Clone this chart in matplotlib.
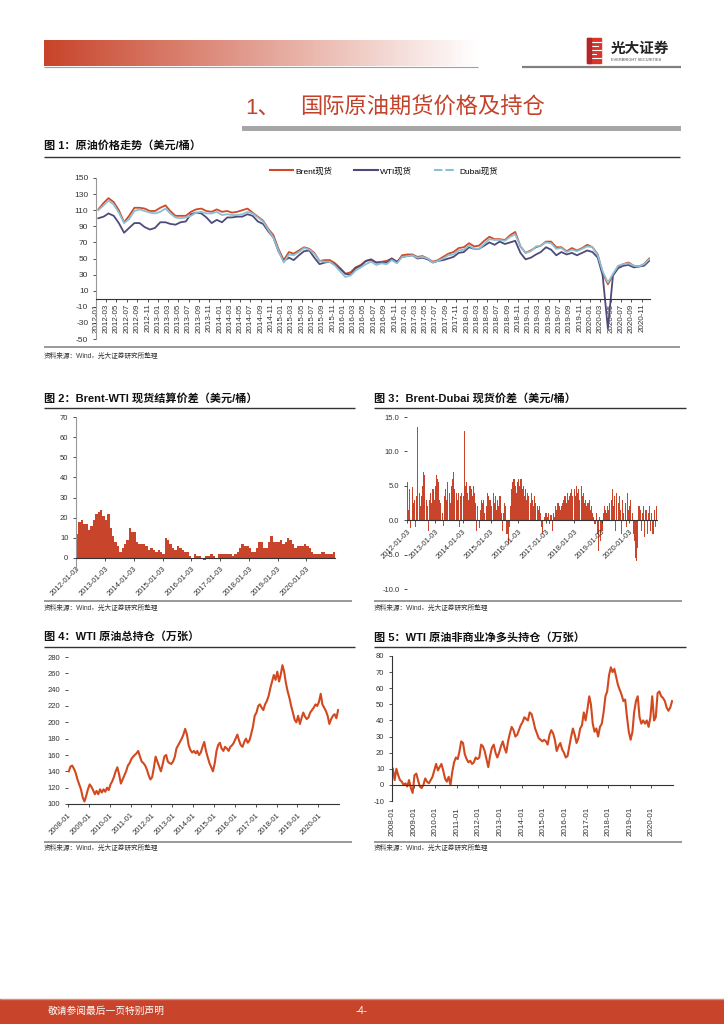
import numpy as np
import pandas as pd
import matplotlib
matplotlib.use("Agg")
import matplotlib.pyplot as plt
from matplotlib.patches import Rectangle
from matplotlib.lines import Line2D

plt.rcParams["font.family"] = ["Liberation Sans", "Noto Sans CJK SC", "DejaVu Sans"]
plt.rcParams["axes.unicode_minus"] = False

RED = "#C8442A"
LINE_RED = "#D2491F"
BRENT_C = "#D04A26"
WTI_C = "#4E4B7C"
DUBAI_C = "#8DBFD2"
TXT = "#333333"

# ---------------- data ----------------
# Fig 1: monthly spot prices 2012-01 .. 2020-12 (USD/bbl)
brent = [111, 119, 125, 120, 110, 95, 103, 113, 113, 112, 109, 109,
         113, 116, 109, 103, 103, 103, 108, 111, 112, 109, 108, 111,
         108, 109, 107, 108, 110, 112, 107, 102, 97, 87, 79, 62,
         48, 58, 56, 60, 64, 62, 57, 47, 48, 48, 44, 38,
         31, 33, 39, 42, 47, 48, 45, 46, 47, 50, 45, 54,
         55, 55, 52, 53, 50, 46, 48, 52, 56, 58, 63, 64,
         69, 65, 66, 72, 77, 74, 74, 73, 79, 83, 65, 57,
         60, 64, 66, 71, 71, 64, 64, 59, 63, 60, 63, 67,
         64, 55, 32, 18, 29, 40, 43, 45, 41, 40, 43, 50]
wti = [100, 102, 106, 103, 94, 82, 88, 94, 94, 89, 86, 88,
       95, 95, 93, 92, 95, 96, 105, 107, 106, 101, 94, 98,
       95, 101, 101, 102, 102, 105, 103, 96, 93, 84, 76, 59,
       47, 51, 48, 54, 59, 60, 51, 43, 45, 46, 42, 37,
       31, 30, 38, 41, 47, 49, 45, 45, 45, 50, 46, 52,
       53, 54, 50, 51, 49, 45, 47, 48, 50, 52, 57, 58,
       64, 62, 62, 66, 70, 67, 71, 68, 70, 72, 57, 49,
       51, 55, 58, 64, 61, 54, 58, 55, 57, 54, 57, 60,
       58, 51, 29, -37, 29, 38, 41, 42, 39, 40, 41, 47]
dubai = [110, 116, 122, 117, 107, 94, 99, 109, 111, 109, 107, 106,
         108, 112, 106, 101, 100, 101, 103, 107, 108, 106, 106, 108,
         104, 105, 104, 104, 105, 108, 106, 101, 96, 86, 76, 60,
         45, 55, 54, 58, 63, 61, 56, 47, 46, 46, 41, 34,
         27, 29, 35, 39, 43, 46, 42, 44, 43, 48, 44, 52,
         53, 54, 51, 52, 50, 45, 47, 50, 54, 55, 60, 61,
         66, 62, 62, 68, 74, 73, 73, 72, 77, 80, 65, 57,
         59, 65, 66, 70, 69, 62, 63, 58, 61, 59, 62, 65,
         64, 54, 34, 20, 31, 41, 43, 44, 41, 40, 43, 49]

# Fig 2: Brent-WTI spread, monthly 2012-01 .. 2020-12
brent_wti = [12, 18, 19, 17, 17, 14, 16, 19, 22, 23, 24, 21,
             19, 22, 15, 11, 8, 6, 3, 5, 7, 9, 15, 13,
             13, 8, 7, 7, 7, 6, 4, 5, 4, 3, 4, 3,
             2, 10, 9, 7, 5, 4, 6, 5, 4, 3, 3, 1,
             0, 2, 1, 1, 0, -1, 1, 1, 2, 1, 0, 2,
             2, 2, 2, 2, 2, 1, 2, 3, 5, 7, 6, 6,
             5, 3, 3, 5, 8, 8, 5, 5, 8, 11, 8, 8,
             8, 9, 7, 8, 10, 9, 7, 5, 6, 6, 6, 7,
             6, 5, 3, 2, 2, 2, 3, 3, 2, 2, 2, 3]
spike_dates = ["2020-04-20", "2020-04-22"]
spike_values = [56.5, -6.0]

# Fig 3: Brent-Dubai spread, semi-monthly 2012-01 .. 2020-12
brent_dubai = [5.5, 1.5, 4.5, -1.2, 4.8, 2.5, 3.0, -1.0, 3.5, 13.5, 4.0, 2.0,
               3.5, 5.0, 7.0, 6.5, 3.0, 2.0, -1.5, 3.0, 4.0, 2.5, 4.5, 3.0,
               5.0, 6.5, 6.0, 5.5, 3.0, 2.5, 1.0, -0.8, 3.5, 4.5, 3.0, 5.5,
               4.0, 2.5, 5.0, 6.0, 7.0, 4.5, 4.0, 3.0, 4.0, -1.0, 3.5, 4.0,
               3.5, 13.0, 5.0, 5.5, 4.0, 3.0, 5.0, 4.5, 3.5, 5.0, 4.0, 2.5,
               -1.5, 2.0, -1.2, 1.5, 3.0, 2.5, 3.0, 1.0, 2.0, 4.0, 3.5, 3.0,
               3.0, 2.0, 4.0, 2.5, 3.5, 1.5, 3.0, 2.0, 3.5, 1.0, -1.5, 1.0,
               2.5, 2.0, -2.0, -3.5, -1.0, 2.0, 4.5, 5.5, 6.0, 5.0, 4.0, 5.5,
               6.0, 5.0, 6.0, 4.5, 5.0, 3.5, 4.5, 3.0, 4.0, 3.5, 2.5, 4.0,
               3.0, 2.0, 3.5, 2.5, 2.0, 1.5, 2.0, 1.0, -1.0, -2.0, 0.5, 1.0,
               1.0, 0.5, 1.0, -0.5, 0.8, -1.5, 1.0, 0.5, 2.0, 1.5, 2.5, 2.0,
               1.5, 2.0, 2.5, 3.0, 3.5, 2.5, 4.0, 3.0, 3.5, 4.0, 4.5, 3.5,
               4.5, 3.5, 5.0, 4.0, 4.5, 3.0, 5.0, 3.5, 4.0, 2.5, 3.0, 2.0,
               2.5, 3.0, 1.5, 2.0, 1.0, 0.5, -0.5, 1.0, -2.0, -4.5, 0.5, -3.0,
               -1.5, 1.0, 2.0, 1.5, 1.0, 2.0, 1.5, 2.5, 3.0, 4.5, 2.0, 3.5,
               -1.5, 4.0, 2.5, 3.5, 1.5, -2.0, 3.0, 1.0, 2.5, -1.0, 4.0, 1.5,
               2.0, 3.0, 1.0, -2.0, -3.0, -5.5, -6.0, -4.0, 2.0, 1.5, -1.5, 1.0,
               2.0, -2.5, 1.5, -2.0, 1.0, 2.0, -1.5, 1.0, -2.0, 1.5, -1.0, 2.0]

# Fig 4: WTI total open interest (10k contracts), monthly 2008-01 .. 2020-12
wti_oi = [140, 146, 147, 143, 138, 130, 124, 118, 108, 103, 110, 118,
          124, 121, 117, 112, 116, 112, 118, 114, 118, 115, 120, 117,
          124, 128, 133, 140, 145, 136, 125, 130, 135, 140, 147, 150,
          155, 158, 160, 162, 165, 158, 152, 150, 147, 142, 135, 130,
          133, 145, 158, 152, 146, 140, 148, 158, 160, 152, 150, 149,
          152, 158, 168, 172, 176, 180, 185, 192, 185, 172, 166, 163,
          165, 162, 165, 160, 163, 170, 176, 165, 157, 150, 145, 140,
          150, 165, 172, 175, 168, 165, 170, 168, 165, 170, 172, 175,
          180, 185, 178, 172, 170, 176, 180, 175, 178, 186, 195, 208,
          212, 220, 222, 218, 215, 222, 226, 232, 242, 250, 258, 252,
          262, 250, 258, 270, 262, 248, 238, 230, 220, 212, 203, 200,
          208, 198, 205, 212, 207, 204, 206, 212, 215, 218, 222, 220,
          225, 235, 222, 218, 214, 208, 198, 204, 208, 210, 205, 215]

# Fig 5: WTI non-commercial net long (10k contracts), monthly 2008-01 .. 2020-12
net_long = [10, 3, 10, 6, 3, 2, 0, 1, -1, 3, -2, -5,
            6, 7, 3, -1, -2, 0, 4, 2, 1, 3, 5, 9,
            13, 9, 11, 13, 9, 4, 2, 5, 0, 8, 14, 17,
            16, 21, 27, 26, 19, 16, 14, 15, 13, 14, 17, 16,
            17, 25, 24, 21, 16, 11, 18, 23, 25, 20, 17, 20,
            24, 27, 23, 20, 27, 32, 36, 34, 30, 31, 34, 37,
            39, 42, 41, 40, 45, 44, 40, 35, 32, 29, 28, 27,
            28, 27, 25, 31, 34, 32, 28, 21, 24, 26, 22, 20,
            17, 18, 24, 30, 35, 31, 26, 29, 35, 37, 45, 40,
            47, 55, 50, 38, 33, 35, 30, 36, 38, 45, 55, 58,
            68, 73, 70, 72, 67, 62, 59, 56, 52, 53, 42, 33,
            28, 33, 45, 52, 55, 42, 38, 40, 38, 40, 36, 42,
            55, 40, 42, 57, 58, 55, 54, 52, 48, 46, 48, 52]

source_text = "资料来源：Wind，光大证券研究所整理"

# ---------------- page ----------------
W, H = 724, 1024
fig = plt.figure(figsize=(7.24, 10.24), dpi=100)
fig.patch.set_facecolor("white")

page = fig.add_axes([0, 0, 1, 1], zorder=0)
page.set_xlim(0, W)
page.set_ylim(H, 0)
page.axis("off")


def px_axes(x0, y0, x1, y1):
    ax = fig.add_axes([x0 / W, 1 - y1 / H, (x1 - x0) / W, (y1 - y0) / H], zorder=2)
    ax.patch.set_alpha(0)
    return ax


def hline(x0, x1, y, color="#333333", lw=1.0):
    page.plot([x0, x1], [y, y], color=color, lw=lw, solid_capstyle="butt")


# header gradient bar
c0 = np.array([200, 68, 42]) / 255
grad = np.linspace(0, 1, 256)[None, :, None]
img = c0 + (1 - c0) * grad
page.imshow(img, extent=(44, 478, 66, 40), aspect="auto", zorder=1)
hline(44, 478, 66.5, color="#A0A0A0", lw=0.8)
hline(522, 681, 66.5, color="#808080", lw=1.6)

# logo
page.add_patch(Rectangle((587, 38), 14, 25, color="#D9352B", zorder=2))
for yy, x_end in [(42, 601), (46, 598), (50, 601), (54, 596), (58, 601)]:
    page.plot([591, x_end], [yy, yy], color="white", lw=0.8, zorder=3)
page.add_patch(Rectangle((587, 38), 4, 25, color="#B0262A", zorder=3))
page.text(611, 49, "光大证券", fontsize=10.5, fontweight="bold", color="#222222",
          va="center", ha="left")
page.text(611, 60, "EVERBRIGHT SECURITIES", fontsize=2.8, color="#444444",
          va="center", ha="left")

# section title
page.text(245, 108, "1、", fontsize=16, color="#C4422A", va="center", ha="left")
page.text(300, 108, "国际原油期货价格及持仓", fontsize=16, color="#C4422A",
          va="center", ha="left")
page.add_patch(Rectangle((242, 126), 439, 5, color="#A6A6A6", lw=0))

# figure titles and rules
page.text(44, 145, "图 1：原油价格走势（美元/桶）", fontsize=8, fontweight="bold",
          va="center", color="#111111")
hline(44, 680, 157, lw=1.0)
hline(44, 680, 347, color="#888888", lw=1.2)
page.text(44, 356, source_text, fontsize=4.8, va="center", color=TXT)

page.text(44, 398, "图 2：Brent-WTI 现货结算价差（美元/桶）", fontsize=8,
          fontweight="bold", va="center", color="#111111")
hline(44, 355, 407.5, lw=1.0)
hline(44, 352, 601, color="#888888", lw=1.2)
page.text(44, 608, source_text, fontsize=4.8, va="center", color=TXT)

page.text(374, 398, "图 3：Brent-Dubai 现货价差（美元/桶）", fontsize=8,
          fontweight="bold", va="center", color="#111111")
hline(374, 686, 407.5, lw=1.0)
hline(374, 682, 601, color="#888888", lw=1.2)
page.text(374, 608, source_text, fontsize=4.8, va="center", color=TXT)

page.text(44, 637, "图 4：WTI 原油总持仓（万张）", fontsize=8, fontweight="bold",
          va="center", color="#111111")
hline(44, 355, 647, lw=1.0)
hline(44, 352, 842, color="#888888", lw=1.2)
page.text(44, 848, source_text, fontsize=4.8, va="center", color=TXT)

page.text(374, 637, "图 5：WTI 原油非商业净多头持仓（万张）", fontsize=8,
          fontweight="bold", va="center", color="#111111")
hline(374, 686, 647, lw=1.0)
hline(374, 682, 842, color="#888888", lw=1.2)
page.text(374, 848, source_text, fontsize=4.8, va="center", color=TXT)

# footer
page.add_patch(Rectangle((0, 999), W, 25, color=RED, lw=0))
hline(0, W, 998.5, color="#E08A78", lw=1.0)
page.text(48, 1011, "敬请参阅最后一页特别声明", fontsize=7, color="white", va="center")
page.text(362, 1011, "-4-", fontsize=7, color="white", va="center", ha="center")


def style(ax, fs=5.5, zero_spine=False):
    # spine position first: moving a spine resets the tick labels
    if zero_spine:
        ax.spines["bottom"].set_position(("data", 0))
    for s in ["top", "right"]:
        ax.spines[s].set_visible(False)
    ax.spines["bottom"].set_color("#333333")
    ax.tick_params(labelsize=fs, colors=TXT, length=2, width=0.6)


def date_labels(ax, ticks, fmt, rot, anchor=True):
    ax.set_xticks(ticks)
    labels = ax.set_xticklabels([d.strftime(fmt) for d in ticks])
    for lab in labels:
        lab.set_rotation(rot)
        if anchor:
            lab.set_ha("right")
            lab.set_rotation_mode("anchor")
        else:
            lab.set_ha("center")
            lab.set_va("top")


# ---------------- Fig 1 ----------------
ax1 = px_axes(96, 178, 650, 339)
style(ax1, 6, zero_spine=True)
d1 = pd.date_range("2012-01-01", periods=len(brent), freq="MS") + pd.Timedelta(days=14)
ax1.plot(d1, brent, color=BRENT_C, lw=1.3)
ax1.plot(d1, wti, color=WTI_C, lw=1.3)
ax1.plot(d1, dubai, color=DUBAI_C, lw=1.3)
ax1.set_ylim(-50, 150)
ax1.set_yticks(range(-50, 151, 20))
ax1.set_xlim(pd.Timestamp("2012-01-01"), pd.Timestamp("2020-12-20"))
t1 = pd.date_range("2012-01-01", "2020-11-01", freq="2MS")
date_labels(ax1, t1, "%Y-%m", 90, anchor=False)
ax1.tick_params(axis="x", labelsize=5.8, pad=1.5)
ax1.spines["left"].set_color("#999999")
handles = [Line2D([], [], color=BRENT_C, lw=1.5),
           Line2D([], [], color=WTI_C, lw=1.5),
           Line2D([], [], color=DUBAI_C, lw=1.5, ls=(0, (4, 1.5)))]
ax1.legend(handles, ["Brent现货", "WTI现货", "Dubai现货"], loc="lower center",
           bbox_to_anchor=(0.52, 0.97), ncol=3, frameon=False, fontsize=6,
           handlelength=2.8, columnspacing=2.6, handletextpad=0.3)

# ---------------- Fig 2 ----------------
ax2 = px_axes(76, 417, 335, 572)
style(ax2, zero_spine=True)
d2 = pd.date_range("2012-01-01", periods=len(brent_wti), freq="MS")
ax2.bar(d2, brent_wti, width=31, align="edge", color=RED, lw=0)
ax2.bar(pd.to_datetime(spike_dates), spike_values, width=2.5,
        color=["#EFA592", "#C8442A"], lw=0)
ax2.set_ylim(-7, 70)
ax2.set_yticks(range(0, 71, 10))
ax2.set_xlim(pd.Timestamp("2012-01-01"), pd.Timestamp("2020-12-31"))
t2 = [pd.Timestamp(f"{y}-01-03") for y in range(2012, 2021)]
date_labels(ax2, t2, "%Y-%m-%d", 45)
ax2.spines["left"].set_color("#999999")

# ---------------- Fig 3 ----------------
ax3 = px_axes(407, 417, 657, 589)
style(ax3, zero_spine=True)
d3 = pd.date_range("2012-01-01", periods=len(brent_dubai), freq="SMS")
ax3.bar(d3, brent_dubai, width=14, align="edge", color=RED, lw=0)
ax3.set_ylim(-10, 15)
ax3.set_yticks(range(-10, 16, 5))
ax3.set_yticklabels([f"{v:.1f}" for v in range(-10, 16, 5)])
ax3.set_xlim(pd.Timestamp("2012-01-01"), pd.Timestamp("2020-12-31"))
date_labels(ax3, t2, "%Y-%m-%d", 45)
ax3.spines["left"].set_visible(False)

# ---------------- Fig 4 ----------------
ax4 = px_axes(68, 657, 339, 804)
style(ax4)
d4 = pd.date_range("2008-01-01", periods=len(wti_oi), freq="MS") + pd.Timedelta(days=14)
ax4.plot(d4, wti_oi, color=LINE_RED, lw=1.5)
ax4.set_ylim(100, 280)
ax4.set_yticks(range(100, 281, 20))
ax4.set_xlim(pd.Timestamp("2008-01-01"), pd.Timestamp("2020-12-31"))
t4 = [pd.Timestamp(f"{y}-01-01") for y in range(2008, 2021)]
date_labels(ax4, t4, "%Y-%m", 45)
ax4.spines["left"].set_visible(False)

# ---------------- Fig 5 ----------------
ax5 = px_axes(392, 656, 673, 801)
style(ax5, zero_spine=True)
d5 = pd.date_range("2008-01-01", periods=len(net_long), freq="MS") + pd.Timedelta(days=14)
ax5.plot(d5, net_long, color=LINE_RED, lw=1.5)
ax5.set_ylim(-10, 80)
ax5.set_yticks(range(-10, 81, 10))
ax5.set_xlim(pd.Timestamp("2008-01-01"), pd.Timestamp("2020-12-31"))
date_labels(ax5, t4, "%Y-%m", 90, anchor=False)
ax5.tick_params(axis="x", pad=14, labelsize=5.8)
ax5.spines["left"].set_color("#333333")

fig.savefig("out.png", dpi=100, facecolor="white")
